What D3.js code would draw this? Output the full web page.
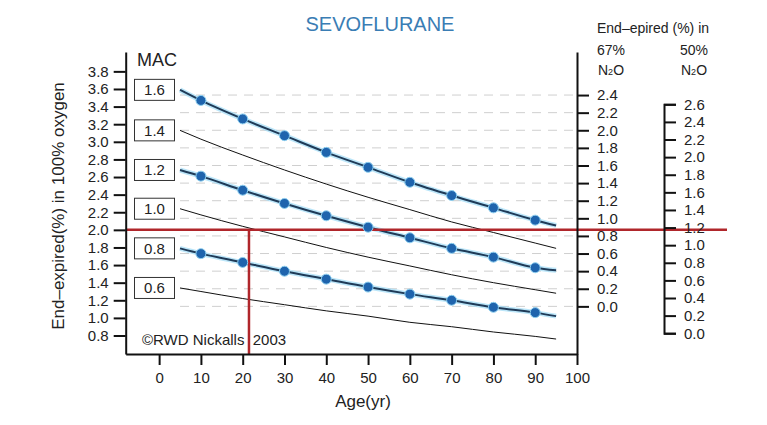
<!DOCTYPE html>
<html>
<head>
<meta charset="utf-8">
<script src="https://cdn.jsdelivr.net/npm/d3@7"></script>
<style>
  body { margin: 0; background: #fff; }
  svg { display: block; font-family: "Liberation Sans", Arial, sans-serif; }
  .axis path, .axis line { stroke: #111; stroke-width: 2; }
  .axis text { font-size: 15px; fill: #222; font-family: "Liberation Sans", Arial, sans-serif; }
</style>
</head>
<body>
<script>
// ages along each curve
const ages = [5, 10, 20, 30, 40, 50, 60, 70, 80, 90, 95];
const dotAges = [10, 20, 30, 40, 50, 60, 70, 80, 90];

// MAC levels and their end-expired (% in oxygen) values at each age
const macLabels = ["1.6", "1.4", "1.2", "1.0", "0.8", "0.6"];
const mac16 = [3.59, 3.47, 3.26, 3.07, 2.88, 2.71, 2.54, 2.39, 2.25, 2.11, 2.05];
const mac14 = [3.13, 3.03, 2.85, 2.68, 2.52, 2.37, 2.23, 2.09, 1.97, 1.85, 1.79];
const mac12 = [2.68, 2.61, 2.45, 2.30, 2.16, 2.03, 1.91, 1.79, 1.69, 1.57, 1.54];
const mac10 = [2.24, 2.17, 2.04, 1.92, 1.80, 1.69, 1.59, 1.49, 1.40, 1.32, 1.28];
const mac08 = [1.79, 1.73, 1.63, 1.53, 1.44, 1.35, 1.27, 1.20, 1.12, 1.06, 1.02];
const mac06 = [1.34, 1.30, 1.22, 1.15, 1.08, 1.02, 0.95, 0.90, 0.84, 0.79, 0.76];
const withDots = [true, false, true, false, true, false];

// axis ticks
const xTicks = [0, 10, 20, 30, 40, 50, 60, 70, 80, 90, 100];
const leftTicks = [0.8, 1.0, 1.2, 1.4, 1.6, 1.8, 2.0, 2.2, 2.4, 2.6, 2.8, 3.0, 3.2, 3.4, 3.6, 3.8];
const n2o67Ticks = [0.0, 0.2, 0.4, 0.6, 0.8, 1.0, 1.2, 1.4, 1.6, 1.8, 2.0, 2.2, 2.4];
const n2o50Ticks = [0.0, 0.2, 0.4, 0.6, 0.8, 1.0, 1.2, 1.4, 1.6, 1.8, 2.0, 2.2, 2.4, 2.6];

// offsets between oxygen scale and N2O scales
const off67 = 1.131;
const off50 = 0.826;

// example reading (red lines)
const readAge = 21.5;
const readValue = 2.0;

const w = 767, h = 425;
const padL = 125.7, padR = 577, padT = 52, padB = 354;

const svg = d3.select("body").append("svg")
  .attr("width", w).attr("height", h);

const x = d3.scaleLinear().domain([-8, 100]).range([padL, padR]);
const yL = d3.scaleLinear().domain([0.59, 4.02]).range([padB, padT]);
const y67 = d3.scaleLinear().domain([0.59 - off67, 4.02 - off67]).range([padB, padT]);
const y50 = d3.scaleLinear().domain([0, 2.6]).range([yL(off50), yL(2.6 + off50)]);

const fmt = d3.format(".1f");

// dashed grid lines at the 67% N2O ticks
svg.append("g").selectAll("line")
  .data(n2o67Ticks)
  .enter().append("line")
  .attr("x1", x(5)).attr("x2", padR)
  .attr("y1", d => y67(d)).attr("y2", d => y67(d))
  .attr("stroke", "#cfcfcf")
  .attr("stroke-width", 1)
  .attr("stroke-dasharray", "9,7");

// curves
const series = [mac16, mac14, mac12, mac10, mac08, mac06];
const line = d3.line()
  .x((d, i) => x(ages[i]))
  .y(d => yL(d))
  .curve(d3.curveMonotoneX);

series.forEach(function(vals, k) {
  if (withDots[k]) {
    svg.append("path").datum(vals)
      .attr("d", line)
      .attr("fill", "none")
      .attr("stroke", "#9fdcf7")
      .attr("stroke-width", 5)
      .attr("opacity", 0.7);
    svg.append("path").datum(vals)
      .attr("d", line)
      .attr("fill", "none")
      .attr("stroke", "#1f3b58")
      .attr("stroke-width", 2);
  } else {
    svg.append("path").datum(vals)
      .attr("d", line)
      .attr("fill", "none")
      .attr("stroke", "#111")
      .attr("stroke-width", 1);
  }
});

// red reading lines
svg.append("line")
  .attr("x1", padL).attr("x2", 727)
  .attr("y1", yL(readValue)).attr("y2", yL(readValue))
  .attr("stroke", "#b0262b").attr("stroke-width", 2.5);
svg.append("line")
  .attr("x1", x(readAge)).attr("x2", x(readAge))
  .attr("y1", yL(readValue)).attr("y2", padB + 1)
  .attr("stroke", "#b0262b").attr("stroke-width", 2.5);

// dots
series.forEach(function(vals, k) {
  if (!withDots[k]) return;
  svg.append("g").selectAll("circle")
    .data(dotAges)
    .enter().append("circle")
    .attr("cx", d => x(d))
    .attr("cy", d => yL(vals[ages.indexOf(d)]))
    .attr("r", 5)
    .attr("fill", "#1f64ad")
    .attr("stroke", "#8fd0f0")
    .attr("stroke-width", 1);
});

// MAC boxes
const boxes = svg.append("g");
series.forEach(function(vals, k) {
  const cy = yL(vals[0]);
  boxes.append("rect")
    .attr("x", 134.5).attr("y", cy - 10.5)
    .attr("width", 40).attr("height", 21)
    .attr("fill", "#fff")
    .attr("stroke", "#333").attr("stroke-width", 1);
  boxes.append("text")
    .attr("x", 154.5).attr("y", cy + 5.5)
    .attr("text-anchor", "middle")
    .attr("font-size", "15px").attr("fill", "#222")
    .text(macLabels[k]);
});

// axes
svg.append("g").attr("class", "axis")
  .attr("transform", "translate(" + padL + ",0)")
  .call(d3.axisLeft(yL).tickValues(leftTicks).tickFormat(fmt).tickSize(12).tickSizeOuter(0).tickPadding(5));

svg.append("g").attr("class", "axis")
  .attr("transform", "translate(0," + padB + ")")
  .call(d3.axisBottom(x).tickValues(xTicks).tickSize(11).tickSizeOuter(0).tickPadding(7));

svg.append("g").attr("class", "axis")
  .attr("transform", "translate(" + padR + ",0)")
  .call(d3.axisRight(y67).tickValues(n2o67Ticks).tickFormat(fmt).tickSize(12).tickSizeOuter(0).tickPadding(8));

svg.append("g").attr("class", "axis")
  .attr("transform", "translate(664,0)")
  .call(d3.axisRight(y50).tickValues(n2o50Ticks).tickFormat(fmt).tickSize(12).tickSizeOuter(12).tickPadding(8));

// texts
svg.append("text")
  .attr("x", 380).attr("y", 31)
  .attr("text-anchor", "middle")
  .attr("font-size", "20px").attr("fill", "#3a7db4")
  .text("SEVOFLURANE");

svg.append("text")
  .attr("x", 137).attr("y", 66)
  .attr("font-size", "18px").attr("fill", "#222")
  .text("MAC");

svg.append("text")
  .attr("transform", "translate(64,206) rotate(-90)")
  .attr("text-anchor", "middle")
  .attr("font-size", "17px").attr("fill", "#222")
  .text("End\u2013expired(%) in 100% oxygen");

svg.append("text")
  .attr("x", 363).attr("y", 407)
  .attr("text-anchor", "middle")
  .attr("font-size", "17px").attr("fill", "#222")
  .text("Age(yr)");

svg.append("text")
  .attr("x", 142).attr("y", 345)
  .attr("font-size", "15px").attr("fill", "#222")
  .attr("xml:space", "preserve")
  .style("white-space", "pre")
  .text("\u00a9RWD Nickalls  2003");

svg.append("text")
  .attr("x", 653).attr("y", 33)
  .attr("text-anchor", "middle")
  .attr("font-size", "14px").attr("fill", "#222")
  .text("End\u2013epired (%) in");

[["67%", 611], ["50%", 694]].forEach(function(p) {
  svg.append("text")
    .attr("x", p[1]).attr("y", 55)
    .attr("text-anchor", "middle")
    .attr("font-size", "14px").attr("fill", "#222")
    .text(p[0]);
  const t = svg.append("text")
    .attr("x", p[1]).attr("y", 75)
    .attr("text-anchor", "middle")
    .attr("font-size", "14px").attr("fill", "#222");
  t.append("tspan").text("N");
  t.append("tspan").attr("font-size", "9px").text("2");
  t.append("tspan").text("O");
});
</script>
</body>
</html>
